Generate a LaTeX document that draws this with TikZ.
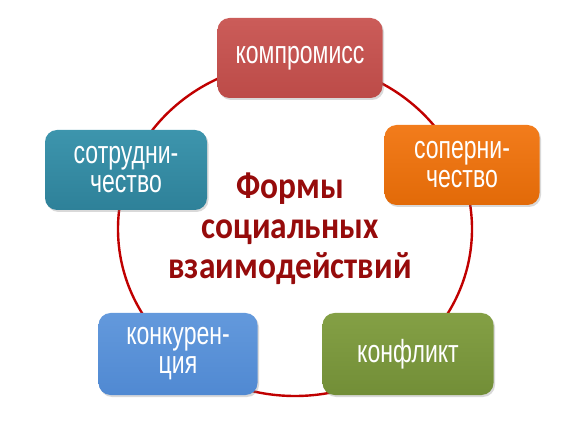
\documentclass[tikz,border=0pt]{standalone}
\usepackage{fontspec}
\setmainfont{Liberation Sans}
\newfontfamily\boxfont[FakeStretch=0.72]{Liberation Sans}
\newfontfamily\titlefont[FakeStretch=0.88]{Carlito}
\usetikzlibrary{shadows}
\definecolor{ringred}{HTML}{C00000}
\definecolor{titlered}{HTML}{960B0B}
\definecolor{redtop}{HTML}{CB5C59}
\definecolor{redbase}{HTML}{BC4B48}
\definecolor{tealtop}{HTML}{3D95AD}
\definecolor{tealbase}{HTML}{2E8199}
\definecolor{orangetop}{HTML}{F27C1C}
\definecolor{orangebase}{HTML}{E26A08}
\definecolor{bluetop}{HTML}{6399DC}
\definecolor{bluebase}{HTML}{5089D2}
\definecolor{greentop}{HTML}{84A045}
\definecolor{greenbase}{HTML}{728E37}

\begin{document}
\begin{tikzpicture}[x=1pt,y=-1pt]
\tikzstyle{every node}+=[inner sep=0pt]
\tikzstyle{form}=[rounded corners=12pt, minimum height=80pt, align=center, text=white,
  font=\boxfont\fontsize{32}{29}\selectfont,
  drop shadow={opacity=0.3, shadow xshift=1.5pt, shadow yshift=-2pt}]
\useasboundingbox (0,0) rectangle (573,430);
% the ring behind the forms
\coordinate (centre) at (295,229);
\draw [ringred, line width=2.4pt] (centre) ellipse [x radius=177, y radius=167];
% the five forms
\node [form, top color=redtop, bottom color=redbase, minimum width=165pt] (kompromiss) at (300,58) {компромисс};
\node [form, top color=orangetop, bottom color=orangebase, minimum width=155pt] (sopernichestvo) at (462,165) {соперни-\\чество};
\node [form, top color=greentop, bottom color=greenbase, minimum width=171pt, minimum height=82pt] (konflikt) at (408,354) {конфликт};
\node [form, top color=bluetop, bottom color=bluebase, minimum width=159pt, minimum height=82pt] (konkurenciya) at (178,354) {конкурен-\\ция};
\node [form, top color=tealtop, bottom color=tealbase, minimum width=162pt] (sotrudnichestvo) at (126,170) {сотрудни-\\чество};
% title
\node [text=titlered, align=center, font=\titlefont\bfseries\fontsize{38}{40}\selectfont] (formy) at (290,229) {Формы\\социальных\\взаимодействий};
\end{tikzpicture}
\end{document}
